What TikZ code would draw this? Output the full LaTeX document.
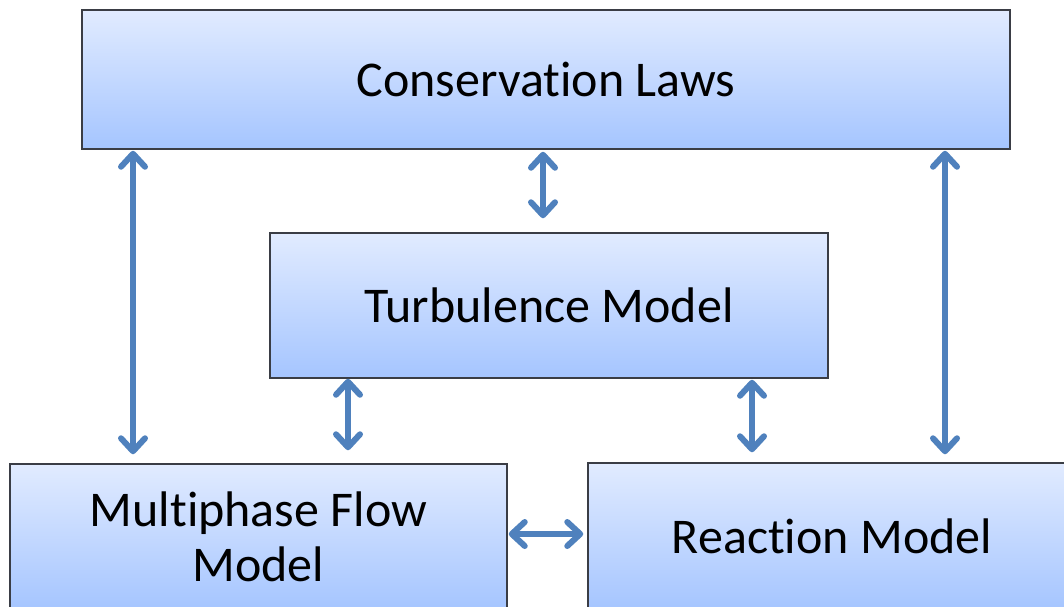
\documentclass[tikz,border=0pt]{standalone}
\usepackage{fontspec}
\setmainfont{Carlito}[Ligatures=NoCommon]
\usetikzlibrary{arrows.meta, positioning, calc}
\definecolor{boxTop}{HTML}{E1EBFF}
\definecolor{boxBottom}{HTML}{A5C5FF}
\definecolor{boxEdge}{HTML}{3A3D45}
\definecolor{linkBlue}{HTML}{4F81BD}

\begin{document}
\begin{tikzpicture}[
    x=1pt, y=-1pt,
    every node/.style={font=\fontsize{50}{55}\selectfont},
    box/.style={
        rectangle, draw=boxEdge, line width=1.5pt,
        top color=boxTop, bottom color=boxBottom,
        align=center, inner sep=0pt
    },
    link/.style={
        {Straight Barb[length=13pt, width=24pt, round]}-{Straight Barb[length=13pt, width=24pt, round]},
        draw=linkBlue, line width=6pt
    }
]
\clip (0,0) rectangle (1064,606);

\node[box, minimum width=928pt, minimum height=139pt] (laws) at (546,79.5) {Conservation Laws};
\node[box, minimum width=558pt, minimum height=145pt] (turb) at (549,305.5) {Turbulence Model};
\node[box, minimum width=497pt, minimum height=146pt] (flow) at (258.5,537) {Multiphase Flow\\Model};
\node[box, minimum width=488pt, minimum height=147pt] (react) at (832,536.5) {Reaction Model};

% links between the models
\draw[link, shorten <=1pt, shorten >=9pt] (laws.south -| 133,0) -- (flow.north -| 133,0);
\draw[link, shorten <=2pt, shorten >=14pt] (laws.south -| 543,0) -- (turb.north -| 543,0);
\draw[link, shorten <=1pt, shorten >=8pt] (laws.south -| 945,0) -- (react.north -| 945,0);
\draw[link, shorten >=13pt] (turb.south -| 348,0) -- (flow.north -| 348,0);
\draw[link, shorten <=1pt, shorten >=10pt] (turb.south -| 752,0) -- (react.north -| 752,0);
\draw[link, shorten <=1pt, shorten >=4pt] (flow.east |- 0,534) -- (react.west |- 0,534);

\end{tikzpicture}
\end{document}
